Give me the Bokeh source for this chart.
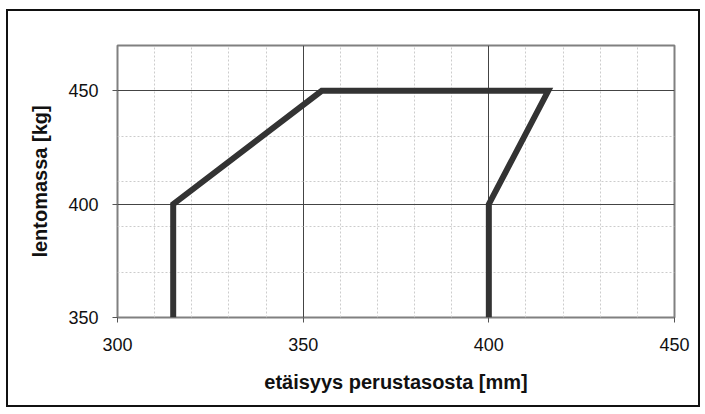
from bokeh.plotting import figure
from bokeh.models import Range1d, FixedTicker
from bokeh.embed import file_html
from bokeh.resources import INLINE

# data
x_mm = [315, 315, 355, 416, 400, 400]
mass_kg = [350, 400, 450, 450, 400, 350]

x_ticks = [300, 350, 400, 450]
x_minor = [310, 320, 330, 340, 360, 370, 380, 390, 410, 420, 430, 440]
y_ticks = [350, 400, 450]
y_minor = [370, 390, 410, 430]

x_title = "etäisyys perustasosta [mm]"
y_title = "lentomassa [kg]"

FONT = "Liberation Sans"

p = figure(width=694, height=398, output_backend="svg", toolbar_location=None,
           x_range=Range1d(300, 450), y_range=Range1d(350, 470),
           min_border_left=109, min_border_right=28, min_border_top=34, min_border_bottom=92)
p.styles = {"border": "2px solid #111", "margin-left": "6px", "margin-top": "9px"}

p.outline_line_color = "#808080"
p.outline_line_width = 2
p.background_fill_color = "white"
p.border_fill_color = "white"

p.xaxis.ticker = FixedTicker(ticks=x_ticks, minor_ticks=x_minor)
p.yaxis.ticker = FixedTicker(ticks=y_ticks, minor_ticks=y_minor)

for ax in (p.xaxis, p.yaxis):
    ax.axis_line_color = None
    ax.major_tick_in = 0
    ax.major_tick_out = 5
    ax.major_tick_line_color = "#555555"
    ax.minor_tick_line_color = None
    ax.major_label_text_font = FONT
    ax.major_label_text_font_size = "18px"
    ax.major_label_text_color = "#111111"
    ax.axis_label_text_font = FONT
    ax.axis_label_text_font_size = "20px"
    ax.axis_label_text_font_style = "bold"
    ax.axis_label_text_color = "#111111"

p.xaxis.axis_label = x_title
p.yaxis.axis_label = y_title
p.xaxis.major_label_standoff = 15
p.xaxis.axis_label_standoff = 17
p.yaxis.major_label_standoff = 14
p.yaxis.axis_label_standoff = 14

for g in (p.xgrid, p.ygrid):
    g.grid_line_color = "#444444"
    g.grid_line_width = 1
    g.minor_grid_line_color = "#cccccc"
    g.minor_grid_line_dash = "2 2"
    g.minor_grid_line_width = 1

p.line(x_mm, mass_kg, line_color="#333333", line_width=6, line_join="miter")

open("out.html", "w").write(file_html(p, INLINE))
